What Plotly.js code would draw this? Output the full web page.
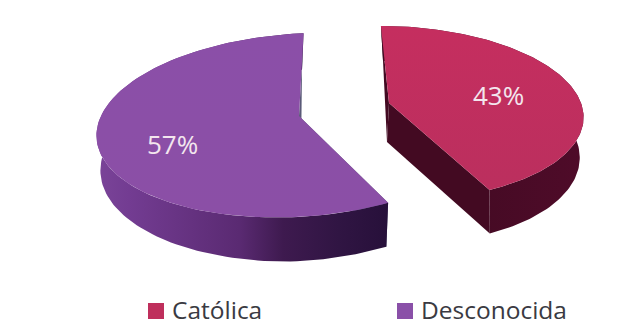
<!DOCTYPE html>
<html>
<head>
<meta charset="utf-8">
<script src="https://cdn.plot.ly/plotly-3.0.1.min.js"></script>
<style>html,body{margin:0;padding:0;background:#fff}#chart{width:635px;height:326px}</style>
</head>
<body>
<div id="chart"></div>
<script>
// Religious affiliation shares
const categories = ['Católica', 'Desconocida'];
const shares = [43, 57];
const swatchColors = ['#bf2f5c', '#8a50a8'];

// Perspective set-up of each exploded slice, in page pixels
const solids = [
  {cx: 389, cy: 103, rx: 192, ry: 86, tilt: 0, k: 0.1166, skew: 9, depth: 39, lean: 0, dx: -2, bow: 4, dw: 0.99,
   top: {type: 'vertical', colorscale: [[0, '#bb2f5e'], [1, '#c52e5f']]},
   side: {type: 'horizontal', colorscale: [[0, '#3d0a20'], [1, '#4f0b29']]},
   wall: '#430a22'},
  {cx: 299, cy: 116, rx: 201, ry: 91, tilt: -8, k: 0.1, skew: -5, depth: 40, lean: 6, dx: 2, bow: -3.5, dw: 0.99,
   top: {type: 'vertical', colorscale: [[0, '#8b4fa6'], [1, '#8b4fa8']]},
   side: {type: 'horizontal', colorscale: [[0, '#7a4498'], [0.11, '#733c92'], [0.49, '#5a2a72'], [0.64, '#3e1a4f'], [0.83, '#301543'], [1, '#27103a']]},
   wall: '#5a5a78'}
];

function project(g, frac, drop) {
  const t = 2 * Math.PI * frac;
  const u = Math.sin(t), v = -Math.cos(t);
  const w = 1 - g.k * v;
  const x = (g.rx * u + g.skew * v) / w;
  const y = (g.ry * v + g.tilt * u) / w;
  if (!drop) return {x: g.cx + x, y: g.cy + y};
  // lower rim: shallower towards the far left, slightly pulled in
  const d = g.depth + g.lean * Math.min(u, 0);
  return {
    x: g.cx + g.dx + g.bow * v * v + g.dw * x,
    y: g.cy + y + d / w
  };
}
function apex(g, drop) {
  return {x: g.cx + (drop ? g.dx : 0), y: g.cy + (drop ? g.depth : 0)};
}
function arc(g, a, b, drop) {
  const pts = [];
  const steps = 120;
  for (let i = 0; i <= steps; i++) pts.push(project(g, a + (b - a) * i / steps, drop));
  return pts;
}
function poly(pts, gradient, color) {
  const trace = {
    x: pts.map(p => p.x), y: pts.map(p => p.y),
    mode: 'lines', line: {width: 0}, fill: 'toself',
    hoverinfo: 'skip', showlegend: false, type: 'scatter'
  };
  if (gradient) trace.fillgradient = gradient;
  if (color) trace.fillcolor = color;
  return trace;
}

const traces = [];
const annotations = [];
let start = 0;
const total = shares.reduce((s, x) => s + x, 0);
shares.forEach((value, i) => {
  const g = solids[i];
  const a = start / total, b = (start + value) / total;
  start += value;
  // cut faces, then the curved rim, then the upper face
  [a, b].forEach(f => {
    traces.push(poly([apex(g, false), project(g, f, false), project(g, f, true), apex(g, true), apex(g, false)], null, g.wall));
  });
  const rimTop = arc(g, a, b, false), rimLow = arc(g, a, b, true).reverse();
  traces.push(poly(rimTop.concat(rimLow, [rimTop[0]]), g.side));
  traces.push(poly([apex(g, false)].concat(rimTop, [apex(g, false)]), g.top));
});

// Key along the bottom edge: a square swatch followed by the category name
const keySwatchX = [156, 405];
const keyTextX = [173, 422];
const keySwatchY = 311;
const keyTextY = 309.5;
categories.forEach((name, i) => {
  traces.push({
    x: [keySwatchX[i]], y: [keySwatchY], type: 'scatter', mode: 'markers', name: name,
    marker: {symbol: 'square', size: 16, color: swatchColors[i]},
    hoverinfo: 'skip', showlegend: false
  });
  annotations.push({
    x: keyTextX[i], y: keyTextY, text: name, showarrow: false, xanchor: 'left', yanchor: 'middle',
    xshift: -3,
    font: {family: 'Open Sans, sans-serif', size: 24.5, color: '#3a3a42'}
  });
});

// Value labels on the upper faces
const labelAnchors = [{x: 498, y: 95}, {x: 172, y: 144}];
shares.forEach((value, i) => {
  annotations.push({
    x: labelAnchors[i].x, y: labelAnchors[i].y, text: value + '%', showarrow: false,
    font: {family: 'Open Sans, sans-serif', size: 26, color: '#f3e6ee'}
  });
});

const layout = {
  width: 635, height: 326,
  margin: {l: 0, r: 0, t: 0, b: 0},
  paper_bgcolor: '#ffffff', plot_bgcolor: '#ffffff',
  xaxis: {range: [0, 635], visible: false, fixedrange: true},
  yaxis: {range: [326, 0], visible: false, fixedrange: true},
  showlegend: false,
  annotations: annotations
};
Plotly.newPlot('chart', traces, layout, {displayModeBar: false, staticPlot: true});
</script>
</body>
</html>
